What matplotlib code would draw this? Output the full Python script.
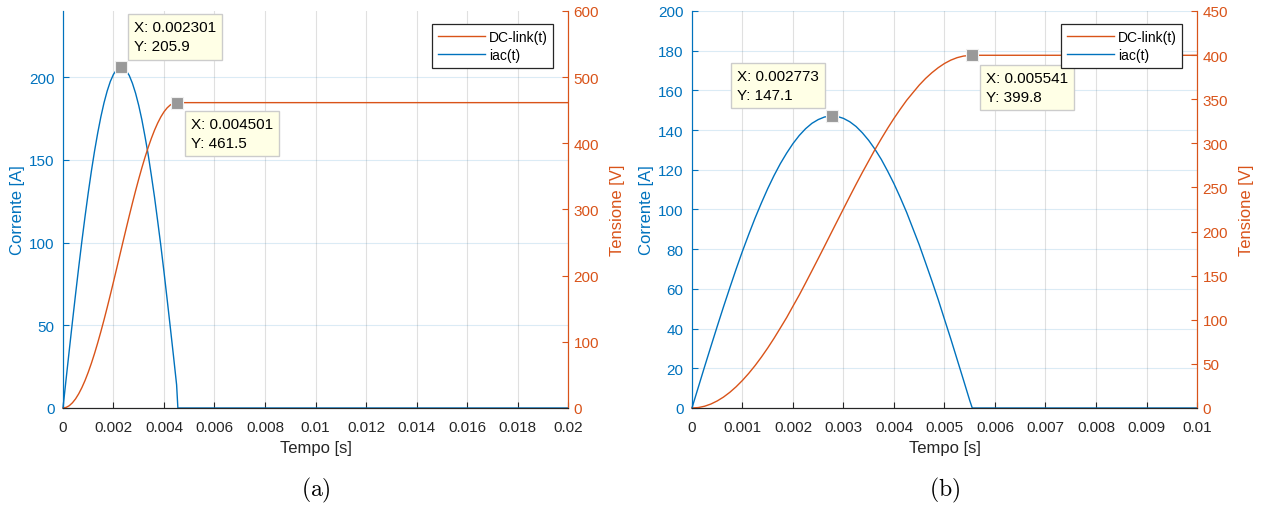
import numpy as np
import matplotlib
matplotlib.use("Agg")
import matplotlib.pyplot as plt
from matplotlib.ticker import FuncFormatter

plt.rcParams['font.family'] = ['Liberation Sans', 'DejaVu Sans']
plt.rcParams['mathtext.fontset'] = 'cm'

BLU = '#0072BD'
ARANCIO = '#D95319'

# ---- dati (a) ----
t_iac_a = [0, 0.000125, 0.00025, 0.000375, 0.0005, 0.000625, 0.00075, 0.000875, 0.001,
           0.001125, 0.00125, 0.001375, 0.0015, 0.001625, 0.00175, 0.001875, 0.002,
           0.002125, 0.002301, 0.002375, 0.0025, 0.002625, 0.00275, 0.002875, 0.003,
           0.003125, 0.00325, 0.003375, 0.0035, 0.003625, 0.00375, 0.003875, 0.004,
           0.004125, 0.00425, 0.004375, 0.0045, 0.00455, 0.02]
iac_a = [0, 17.6, 35.0, 52.2, 69.0, 85.3, 101.0, 115.9, 130.0,
         143.2, 155.3, 166.2, 176.0, 184.5, 191.6, 197.4, 201.7,
         204.5, 205.9, 205.7, 204.1, 201.0, 196.3, 190.3, 182.9,
         174.2, 164.0, 153.1, 140.6, 127.5, 113.0, 98.2, 82.3,
         65.7, 48.8, 31.6, 14.0, 0, 0]
t_dc_a = [0, 0.000125, 0.00025, 0.000375, 0.0005, 0.000625, 0.00075, 0.000875, 0.001,
          0.001125, 0.00125, 0.001375, 0.0015, 0.001625, 0.00175, 0.001875, 0.002,
          0.002125, 0.00225, 0.002375, 0.0025, 0.002625, 0.00275, 0.002875, 0.003,
          0.003125, 0.00325, 0.003375, 0.0035, 0.003625, 0.00375, 0.003875, 0.004,
          0.004125, 0.00425, 0.004375, 0.004501, 0.02]
dc_a = [0, 0.9, 3.5, 7.9, 13.9, 21.6, 30.9, 41.7, 54.0,
        67.6, 82.4, 98.4, 115.4, 133.2, 151.8, 171.0, 190.7,
        210.6, 230.8, 250.9, 270.8, 290.5, 309.7, 328.3, 346.1,
        363.1, 379.1, 393.9, 407.5, 419.8, 430.6, 439.9, 447.6,
        453.6, 458.0, 460.6, 461.5, 461.5]

# ---- dati (b) ----
t_iac_b = [0, 0.000125, 0.00025, 0.000375, 0.0005, 0.000625, 0.00075, 0.000875, 0.001,
           0.001125, 0.00125, 0.001375, 0.0015, 0.001625, 0.00175, 0.001875, 0.002,
           0.002125, 0.00225, 0.002375, 0.0025, 0.002625, 0.002773, 0.002875, 0.003,
           0.003125, 0.00325, 0.003375, 0.0035, 0.003625, 0.00375, 0.003875, 0.004,
           0.004125, 0.00425, 0.004375, 0.0045, 0.004625, 0.00475, 0.004875, 0.005,
           0.005125, 0.00525, 0.005375, 0.0055, 0.00555, 0.01]
iac_b = [0, 10.4, 20.8, 31.0, 41.1, 51.0, 60.6, 70.0, 79.0,
         87.5, 95.7, 103.3, 110.5, 117.1, 123.1, 128.4, 133.2,
         137.3, 140.7, 143.4, 145.3, 146.6, 147.1, 146.9, 145.9,
         144.2, 141.8, 138.6, 134.8, 130.3, 125.2, 119.3, 113.0,
         106.0, 98.6, 90.4, 82.2, 73.2, 64.1, 54.7, 44.7,
         34.8, 24.5, 14.2, 3.8, 0, 0]
t_dc_b = [0, 0.000125, 0.00025, 0.000375, 0.0005, 0.000625, 0.00075, 0.000875, 0.001,
          0.001125, 0.00125, 0.001375, 0.0015, 0.001625, 0.00175, 0.001875, 0.002,
          0.002125, 0.00225, 0.002375, 0.0025, 0.002625, 0.00275, 0.002875, 0.003,
          0.003125, 0.00325, 0.003375, 0.0035, 0.003625, 0.00375, 0.003875, 0.004,
          0.004125, 0.00425, 0.004375, 0.0045, 0.004625, 0.00475, 0.004875, 0.005,
          0.005125, 0.00525, 0.005375, 0.005541, 0.01]
dc_b = [0, 0.5, 2.0, 4.5, 8.0, 12.4, 17.8, 24.1, 31.3,
        39.3, 48.1, 57.7, 68.0, 79.0, 90.7, 102.5, 115.4,
        128.1, 141.7, 155.5, 169.4, 183.4, 197.6, 211.7, 225.8,
        239.8, 253.6, 267.1, 280.1, 293.1, 305.3, 317.1, 328.3,
        338.7, 348.7, 357.4, 366.0, 373.5, 380.0, 385.7, 390.5,
        394.3, 397.1, 398.9, 399.8, 399.8]

# punti dei datatip: (x, y, asse, offset px, ha, va)
tips_a = [(0.002301, 205.9, 'sx', (13, 14), 'left', 'bottom'),
          (0.004501, 461.5, 'dx', (14, -14), 'left', 'top')]
tips_b = [(0.002773, 147.1, 'sx', (-13, 14), 'right', 'bottom'),
          (0.005541, 399.8, 'dx', (14, -16), 'left', 'top')]


def datatip(ax_sopra, ax_dati, x, y, off, ha, va):
    ax_sopra.plot([x], [y], 's', color='#999999', markersize=9, markeredgecolor='#f0f0f0',
                  markeredgewidth=0.8, transform=ax_dati.transData, zorder=10, clip_on=False)
    ax_sopra.annotate(f"X: {x:g}\nY: {y:g}", xy=(x, y), xycoords=ax_dati.transData,
                      xytext=off, textcoords='offset pixels', ha=ha, va=va,
                      multialignment='left', fontsize=11, color='black',
                      linespacing=1.45, zorder=11,
                      bbox=dict(boxstyle='square,pad=0.4', fc='#FFFFE6', ec='#CCCCCC', lw=1))


def pannello(pos, t1, i1, t2, v2, xmax, xstep, ymax1, ystep1, ymax2, ystep2, tips, lettera):
    ax = fig.add_axes(pos)
    ax2 = ax.twinx()
    l1, = ax.plot(t1, i1, color=BLU, lw=1.0, label='iac(t)', clip_on=False)
    l2, = ax2.plot(t2, v2, color=ARANCIO, lw=1.0, label='DC-link(t)', clip_on=False)
    ax.set_xlim(0, xmax)
    ax.set_ylim(0, ymax1)
    ax2.set_ylim(0, ymax2)
    ax.set_xticks(np.arange(0, xmax + xstep / 2, xstep))
    ax.xaxis.set_major_formatter(FuncFormatter(lambda v, p: f"{round(v, 4):g}"))
    ax.set_yticks(np.arange(0, ymax1 + 0.1, ystep1) if ymax1 % ystep1 == 0 else np.arange(0, ymax1, ystep1))
    ax2.set_yticks(np.arange(0, ymax2 + 0.1, ystep2))
    ax.xaxis.grid(True, color='#262626', alpha=0.14, lw=0.8)
    ax.yaxis.grid(True, color=BLU, alpha=0.14, lw=0.8)
    ax.tick_params(direction='in', length=4, labelsize=11)
    ax2.tick_params(direction='in', length=4, labelsize=11)
    ax.tick_params(axis='x', colors='#262626', pad=9)
    ax.tick_params(axis='y', colors=BLU, pad=6)
    ax2.tick_params(axis='y', colors=ARANCIO, pad=4)
    for a in (ax, ax2):
        a.spines['top'].set_visible(False)
        a.spines['left'].set_color(BLU)
        a.spines['right'].set_color(ARANCIO)
        a.spines['bottom'].set_color('#262626')
    ax.set_xlabel('Tempo [s]', fontsize=12, color='#262626', labelpad=4)
    ax.set_ylabel('Corrente [A]', fontsize=12, color=BLU, labelpad=3)
    ax2.set_ylabel('Tensione [V]', fontsize=12, color=ARANCIO, labelpad=8)
    leg = ax2.legend([l2, l1], ['DC-link(t)', 'iac(t)'], loc='upper right',
                     bbox_to_anchor=(0.971, 0.966), fontsize=10, fancybox=False,
                     edgecolor='#262626', framealpha=1, handlelength=3.4,
                     borderpad=0.4, labelspacing=0.3, handletextpad=0.3, borderaxespad=0)
    leg.get_frame().set_linewidth(0.9)
    leg.set_zorder(20)
    for x, y, quale, off, ha, va in tips:
        datatip(ax2, ax if quale == 'sx' else ax2, x, y, off, ha, va)
    fig.text(pos[0] + pos[2] / 2, 0.03, r'$\mathrm{(' + lettera + r')}$', ha='center',
             va='center', fontsize=17)
    return ax, ax2


fig = plt.figure(figsize=(12.62, 5.06), dpi=100)
pannello([0.0499, 0.1917, 0.4002, 0.7846], t_iac_a, iac_a, t_dc_a, dc_a,
         0.02, 0.002, 240, 50, 600, 100, tips_a, 'a')
pannello([0.5483, 0.1917, 0.4002, 0.7846], t_iac_b, iac_b, t_dc_b, dc_b,
         0.01, 0.001, 200, 20, 450, 50, tips_b, 'b')

fig.savefig('out.png', dpi=100)
